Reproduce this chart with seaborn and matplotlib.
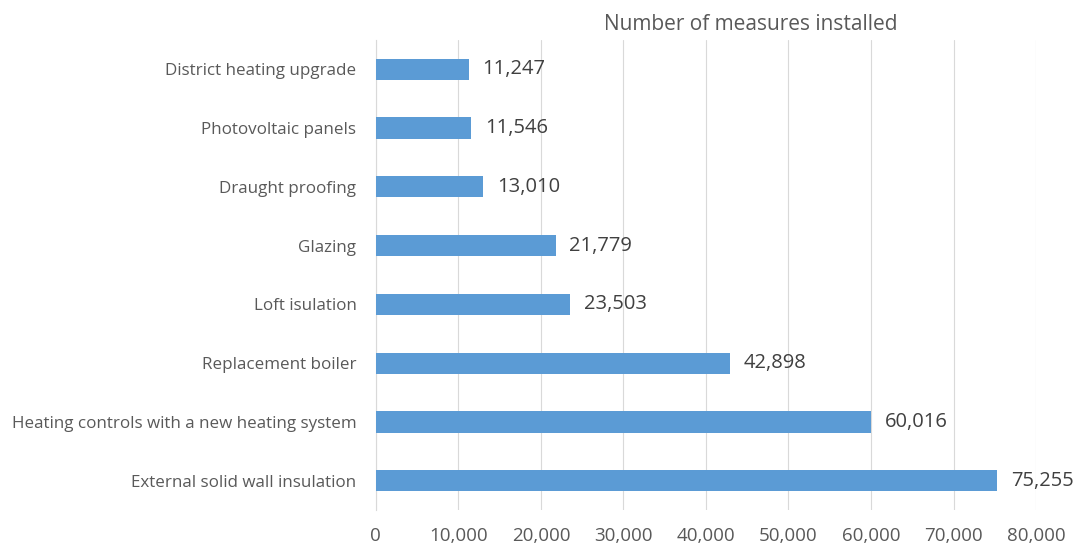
import matplotlib
matplotlib.use("Agg")
import matplotlib.pyplot as plt
import seaborn as sns
import pandas as pd
from matplotlib.ticker import FuncFormatter

measures = [
    "District heating upgrade",
    "Photovoltaic panels",
    "Draught proofing",
    "Glazing",
    "Loft isulation",
    "Replacement boiler",
    "Heating controls with a new heating system",
    "External solid wall insulation",
]
installed = [11247, 11546, 13010, 21779, 23503, 42898, 60016, 75255]
x_ticks = [0, 10000, 20000, 30000, 40000, 50000, 60000, 70000, 80000]

df = pd.DataFrame({"measure": measures, "installed": installed})

sns.set_theme(style="white")
plt.rcParams["font.family"] = ["Open Sans", "DejaVu Sans"]

text_col = "#595959"
bar_col = "#5B9BD5"
grid_col = "#D9D9D9"

fig = plt.figure(figsize=(10.77, 5.45), dpi=100)
ax = fig.add_axes([0.349, 0.064, 0.613, 0.863])

sns.barplot(data=df, x="installed", y="measure", orient="h", color=bar_col,
            width=0.36, saturation=1, linewidth=0, ax=ax, zorder=3)

ax.set_xlim(0, 80000)
ax.set_ylim(7.5, -0.5)
ax.set_xticks(x_ticks)
ax.xaxis.set_major_formatter(FuncFormatter(lambda v, p: f"{int(v):,}"))
ax.grid(axis="x", color=grid_col, linewidth=0.8, zorder=0)
ax.tick_params(axis="both", length=0, colors=text_col)
ax.tick_params(axis="x", pad=12, labelsize=13.5)
ax.tick_params(axis="y", pad=14, labelsize=12.25)
for lab in ax.get_xticklabels() + ax.get_yticklabels():
    lab.set_color(text_col)

for side in ["top", "right", "bottom"]:
    ax.spines[side].set_visible(False)
ax.spines["left"].set_color(grid_col)
ax.spines["left"].set_linewidth(0.8)
ax.set_xlabel("")
ax.set_ylabel("")

for i, v in enumerate(installed):
    ax.annotate(f"{v:,}", xy=(v, i), xytext=(10, 0), textcoords="offset points",
                va="center", ha="left", fontsize=14.5, color="#404040",
                annotation_clip=False)

fig.text(0.697, 0.955, "Number of measures installed", ha="center", va="center",
         fontsize=15, color=text_col)

fig.savefig("out.png", dpi=100, facecolor="white")
